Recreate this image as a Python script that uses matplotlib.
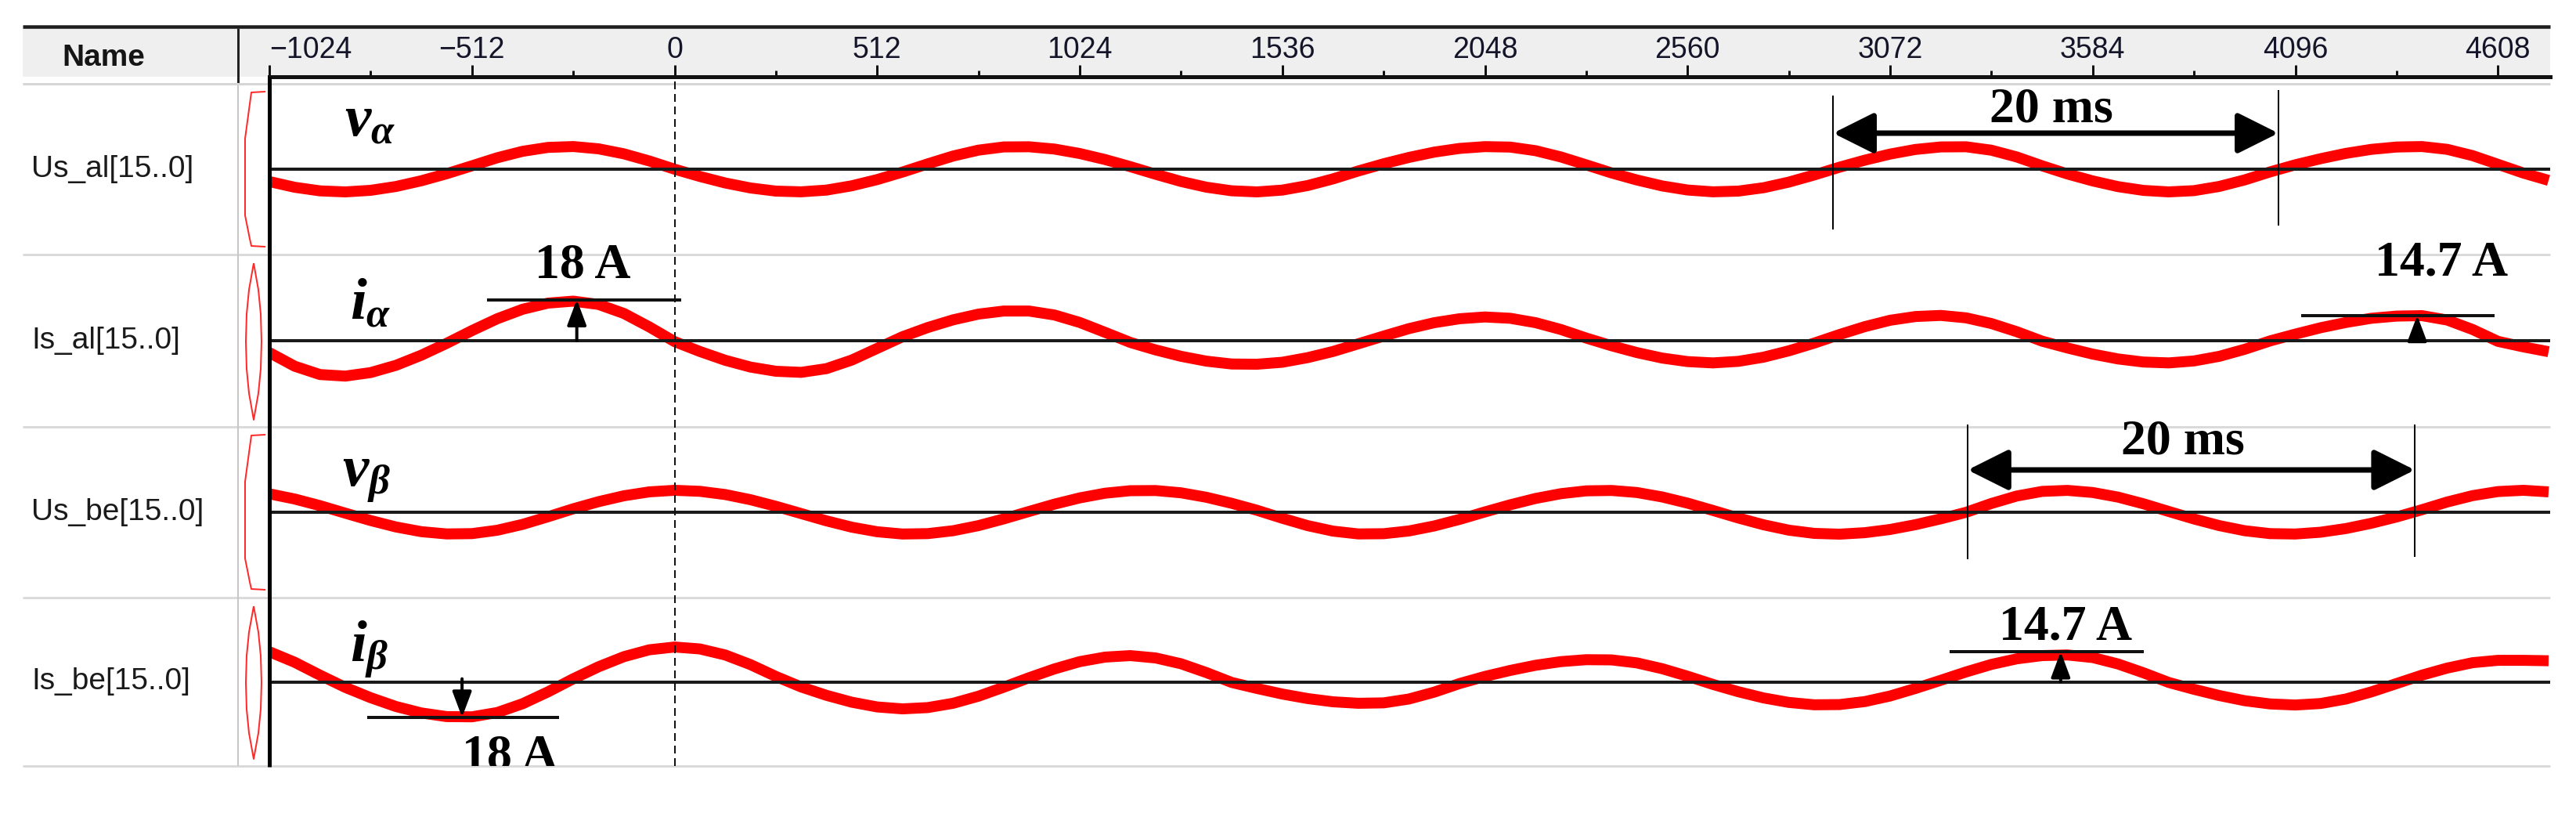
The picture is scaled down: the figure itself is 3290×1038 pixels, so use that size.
import matplotlib
matplotlib.use("Agg")
import matplotlib.pyplot as plt
import numpy as np
from matplotlib.lines import Line2D
from matplotlib.patches import Rectangle, FancyArrowPatch
from matplotlib.transforms import blended_transform_factory
from matplotlib import font_manager as fm

# ------------------------------------------------------------------ data
sample_start = -1024          # first sample shown (logic-analyser sample index)
sample_step = 64              # spacing of the values

# v_alpha [V]
v_alpha = [-158, -231, -277, -290, -270, -221, -148, -58, 43, 146,
           228, 278, 289, 260, 196, 105, 0, -93, -176, -240,
           -280, -289, -267, -212, -133, -37, 68, 168, 243, 284,
           286, 257, 200, 123, 32, -65, -157, -230, -276, -290,
           -267, -209, -124, -23, 69, 150, 218, 265, 288, 282,
           236, 156, 55, -48, -138, -214, -266, -289, -280, -237,
           -165, -74, 25, 115, 193, 252, 284, 286, 242, 156,
           43, -61, -150, -223, -271, -290, -274, -220, -137, -35,
           56, 134, 202, 253, 283, 289, 253, 173, 62, -49, -143]
# i_alpha [A]
i_alpha = [-5.4, -11.6, -15.4, -16.1, -14.5, -11.2, -6.6, -1.2, 4.6, 10.0,
           14.3, 17.1, 18.0, 16.5, 12.4, 6.3, -0.4, -4.9, -8.9, -12.0,
           -13.9, -14.4, -12.7, -8.8, -3.5, 1.8, 6.0, 9.5, 12.1, 13.5,
           13.5, 11.7, 8.3, 3.8, -0.8, -4.2, -7.1, -9.3, -10.6, -10.7,
           -9.8, -7.7, -4.9, -1.4, 2.1, 5.5, 8.2, 10.0, 10.8, 10.2,
           8.2, 5.1, 1.2, -2.3, -5.4, -7.9, -9.5, -10.1, -9.4, -7.5,
           -4.6, -1.1, 2.8, 6.4, 9.3, 11.0, 11.5, 10.4, 7.8, 4.1,
           -0.2, -3.3, -6.1, -8.3, -9.7, -10.1, -9.2, -7.1, -3.9, -0.1,
           3.0, 5.9, 8.3, 10.2, 11.2, 11.4, 9.4, 5.1, -0.3, -2.8, -5.0]
# v_beta [V]
v_beta = [235, 169, 84, -12, -106, -188, -248, -277, -273, -230,
          -155, -58, 44, 135, 210, 260, 280, 267, 226, 160,
          76, -17, -110, -191, -249, -278, -273, -236, -171, -85,
          10, 103, 183, 243, 275, 277, 248, 191, 114, 25,
          -77, -171, -241, -277, -274, -239, -175, -91, 4, 95,
          176, 237, 273, 278, 252, 195, 116, 23, -73, -160,
          -229, -270, -280, -261, -220, -159, -84, -1, 112, 207,
          266, 279, 252, 193, 108, 10, -86, -171, -236, -273,
          -278, -255, -208, -141, -60, 32, 131, 212, 264, 280, 260]
# i_beta [A]
i_beta = [14.0, 9.1, 3.1, -2.6, -7.4, -11.5, -14.5, -16.2, -16.3, -14.3,
          -10.2, -4.7, 1.4, 7.0, 11.7, 14.9, 16.2, 15.3, 12.5, 8.0,
          2.5, -2.4, -6.3, -9.5, -11.7, -12.6, -12.0, -10.0, -6.7, -2.5,
          1.9, 6.0, 9.4, 11.5, 12.2, 11.1, 8.4, 4.3, -0.3, -3.1,
          -5.7, -7.8, -9.3, -10.0, -9.8, -8.0, -4.8, -0.8, 2.5, 5.3,
          7.7, 9.4, 10.3, 10.2, 8.8, 6.1, 2.6, -1.2, -4.6, -7.5,
          -9.6, -10.7, -10.6, -9.2, -6.6, -3.1, 0.7, 4.6, 8.1, 10.7,
          12.2, 12.5, 11.3, 8.3, 4.2, -0.3, -3.5, -6.4, -8.8, -10.3,
          -10.8, -10.1, -8.0, -4.7, -0.8, 3.1, 6.4, 8.9, 10.0, 10.0, 9.8]

signal_names = ["Us_al[15..0]", "Is_al[15..0]", "Us_be[15..0]", "Is_be[15..0]"]
signal_symbols = [r"$v_\alpha$", r"$i_\alpha$", r"$v_\beta$", r"$i_\beta$"]
tick_values = [-1024, -512, 0, 512, 1024, 1536, 2048, 2560, 3072, 3584, 4096, 4608]
tick_labels = ["\u22121024", "\u2212512", "0", "512", "1024", "1536", "2048",
               "2560", "3072", "3584", "4096", "4608"]
minor_tick_values = [-768, -256, 256, 768, 1280, 1792, 2304, 2816, 3328, 3840, 4352]

# ------------------------------------------------------------------ style / layout
plt.rcParams['mathtext.fontset'] = 'custom'
plt.rcParams['mathtext.it'] = 'Liberation Serif:italic:bold'
plt.rcParams['mathtext.rm'] = 'Liberation Serif:bold'
plt.rcParams['mathtext.bf'] = 'Liberation Serif:bold'

avail = {f.name for f in fm.fontManager.ttflist}
tick_family = 'Liberation Sans Narrow' if 'Liberation Sans Narrow' in avail else 'Liberation Sans'
tick_size = 31 if tick_family.endswith('Narrow') else 27

W, H, DPI = 3290, 1038, 100
PT = 72.0 / DPI
XLIM = (-1024, 4740)
X0, X1 = 344, 3257
row_tops = [107, 325, 545, 763]
row_bots = [325, 545, 763, 978]
row_lims = [1090, 39.2, 1090, 39.2]
RED = '#ff0000'
SERIF = 'Liberation Serif'

fig = plt.figure(figsize=(W / DPI, H / DPI), dpi=DPI)
fig.patch.set_facecolor('white')


def fx(x):
    return x / W


def fy(y):
    return 1 - y / H


def fline(xs, ys, color, lw_px, z=5, **kw):
    fig.add_artist(Line2D([fx(x) for x in xs], [fy(y) for y in ys],
                          transform=fig.transFigure, color=color, lw=lw_px * PT,
                          zorder=z, solid_capstyle='butt', **kw))


def px_axes(x0, y0, x1, y1, z=1):
    ax = fig.add_axes([fx(x0), fy(y1), (x1 - x0) / W, (y1 - y0) / H], zorder=z)
    ax.set_axis_off()
    ax.set_xlim(*XLIM)
    return ax


# ---- header
fig.add_artist(Rectangle((fx(29), fy(98)), (3257 - 29) / W, (98 - 36) / H,
                         transform=fig.transFigure, facecolor='#efefef',
                         edgecolor='none', zorder=0))
fline([29, 3257], [34, 34], '#1e1e1e', 4.5)
fline([304, 304], [36, 107], '#222222', 3)
fline([29, 3257], [107, 107], '#d6d6d6', 3)
fig.text(fx(132), fy(74), "Name", ha='center', va='center', fontsize=28,
         fontweight='bold', family='Liberation Sans', color='#151515')

ax_h = fig.add_axes([fx(X0), fy(98), (X1 - X0) / W, (98 - 38) / H], zorder=3)
ax_h.patch.set_alpha(0)
ax_h.set_xlim(*XLIM)
ax_h.set_ylim(0, 1)
for s in ['left', 'right', 'top']:
    ax_h.spines[s].set_visible(False)
ax_h.spines['bottom'].set_linewidth(5 * PT)
ax_h.spines['bottom'].set_color('#111111')
ax_h.set_xticks(tick_values)
ax_h.set_xticks(minor_tick_values, minor=True)
ax_h.set_yticks([])
ax_h.tick_params(axis='x', which='major', direction='in', length=15 * PT,
                 width=3 * PT, color='#111111', labelbottom=False)
ax_h.tick_params(axis='x', which='minor', direction='in', length=8 * PT,
                 width=3 * PT, color='#111111')
blend = blended_transform_factory(ax_h.transData, ax_h.transAxes)
for v, lab in zip(tick_values, tick_labels):
    ax_h.text(v, 0.57, lab, transform=blend, ha='left' if v == tick_values[0] else 'center',
              va='center', fontsize=tick_size, family=tick_family, color='#15152a')

# ---- grid of rows
for b in row_bots:
    fline([29, 3257], [b, b], '#dadada', 3, z=1)
fline([304, 304], [107, 978], '#c6c6c6', 2, z=1)
fline([X0, X0], [98, 979], '#000000', 5, z=8)

# dashed cursor at sample 0
ax_d = px_axes(X0, 83, X1, 978, z=6)
ax_d.set_ylim(0, 1)
ax_d.axvline(0, color='#111111', lw=2 * PT, ls=(0, (5, 3)))

# small red range icons beside names
for i, (top, bot) in enumerate(zip(row_tops, row_bots)):
    if i in (0, 2):
        xs = [339, 321, 313, 313, 319, 321, 339]
        ys = [top + 10, top + 11, top + 70, bot - 50, bot - 20, bot - 11, bot - 10]
        fline(xs, ys, '#ff2a2a', 2, z=4)
    else:
        t0, t1 = top + 11, bot - 9
        m = (t0 + t1) / 2
        hh = (t1 - t0) / 2
        xs = [324, 330, 333, 334, 333, 330, 324, 318, 315, 314, 315, 318, 324]
        ys = [t0, m - 0.66 * hh, m - 0.35 * hh, m, m + 0.35 * hh, m + 0.66 * hh, t1,
              m + 0.66 * hh, m + 0.35 * hh, m, m - 0.35 * hh, m - 0.66 * hh, t0]
        fline(xs, ys, '#ff2a2a', 2, z=4)

series = [v_alpha, i_alpha, v_beta, i_beta]
samples = sample_start + sample_step * np.arange(len(v_alpha))

axes = []
for i in range(4):
    top, bot = row_tops[i], row_bots[i]
    ax = px_axes(X0, top, X1, bot, z=2)
    ax.set_ylim(-row_lims[i], row_lims[i])
    ax.plot(samples, series[i], color=RED, lw=14 * PT, solid_joinstyle='round',
            solid_capstyle='butt', zorder=2)
    ax.axhline(0, color='#1a1a1a', lw=4 * PT, zorder=3)
    zero_y = (top + bot) / 2
    fig.text(fx(40), fy(zero_y), signal_names[i], ha='left', va='center',
             fontsize=28, family='Liberation Sans', color='#1a1a1a')
    axes.append(ax)

SMALL = "-|>,head_length=20,head_width=7.5"
BIG = "<|-|>,head_length=32,head_width=16"


def marker_line(ax, x0, x1, y):
    ax.plot([x0, x1], [y, y], color='#111111', lw=4 * PT, clip_on=False, zorder=5,
            solid_capstyle='butt')


def vline(ax, x, y0, y1):
    ax.plot([x, x], [y0, y1], color='#000000', lw=2 * PT, clip_on=False, zorder=5,
            solid_capstyle='butt')


def arrow(ax, a, b, style, lw_px):
    ax.add_patch(FancyArrowPatch(a, b, arrowstyle=style, mutation_scale=1,
                                 lw=lw_px * PT, color='#000000', shrinkA=0, shrinkB=0,
                                 clip_on=False, zorder=6))


def label(ax, x, y, s, size=46, **kw):
    return ax.text(x, y, s, ha='center', va='baseline', fontsize=size, family=SERIF,
                   fontweight='bold', color='#000000', zorder=7, **kw)


sym_pos = [(-834, 430), (-821, 9.7), (-840, 330), (-821, 9.7)]
for ax, s, (x, y) in zip(axes, signal_symbols, sym_pos):
    ax.text(x, y, s, ha='left', va='baseline', fontsize=54, color='#000000',
            zorder=7, clip_on=False)

# row 1: period marker
a = axes[0]
vline(a, 2928, 940, -770)
vline(a, 4053, 1010, -720)
arrow(a, (2928, 460), (4053, 460), BIG, 7)
label(a, 3479, 610, "20 ms", clip_on=False)

# row 2: current peaks
a = axes[1]
marker_line(a, -473, 16, 18.7)
arrow(a, (-247, 0), (-247, 18.7), SMALL, 4)
label(a, -232, 28.8, "18 A", clip_on=False)
marker_line(a, 4110, 4600, 11.5)
arrow(a, (4404, 0), (4404, 11.5), SMALL, 4)
label(a, 4465, 29.9, "14.7 A", clip_on=False)

# row 3: period marker
a = axes[2]
vline(a, 3268, 1120, -600)
vline(a, 4398, 1120, -570)
arrow(a, (3268, 540), (4398, 540), BIG, 7)
label(a, 3812, 750, "20 ms", clip_on=False)

# row 4: current peaks
a = axes[3]
marker_line(a, -776, -291, -16.5)
arrow(a, (-537, 1.4), (-537, -16.5), SMALL, 4)
t = label(a, -416, -40.3, "18 A")
t.set_clip_on(True)
t.set_clip_box(a.bbox)
marker_line(a, 3223, 3713, 14.0)
arrow(a, (3503, 0), (3503, 14.0), SMALL, 4)
label(a, 3516, 19.8, "14.7 A", clip_on=False)

fig.savefig("out.png", dpi=DPI, facecolor='white')
